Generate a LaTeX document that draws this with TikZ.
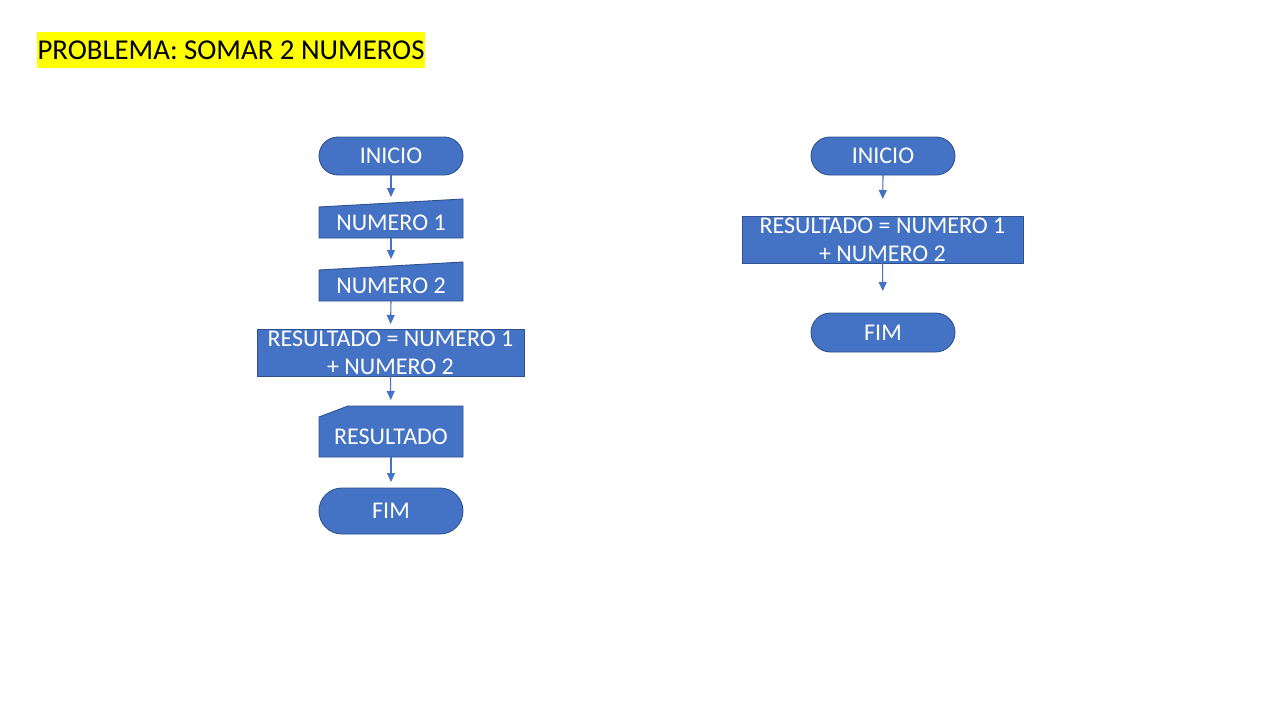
\documentclass[tikz,border=0pt]{standalone}
\usepackage{fontspec}
\setmainfont{Carlito}
\usetikzlibrary{arrows.meta,backgrounds}
\definecolor{boxfill}{HTML}{4472C4}
\definecolor{boxline}{HTML}{2F528F}
\definecolor{hl}{HTML}{FFFF00}
\begin{document}
\begin{tikzpicture}[x=1pt,y=-1pt,
  every node/.style={inner sep=0pt, outer sep=0pt},
  lbl/.style={font=\fontsize{24}{28}\selectfont, text=white, align=center},
  term/.style={lbl, draw=boxline, fill=boxfill, line width=0.9pt, minimum width=144pt},
  proc/.style={lbl, draw=boxline, fill=boxfill, line width=0.9pt},
  shp/.style={draw=boxline, fill=boxfill, line width=0.9pt, line join=miter},
  flow/.style={draw=boxfill, line width=1.1pt, -{Triangle[width=8pt,length=9pt]}}
]
\useasboundingbox (0,0) rectangle (1280,720);

% title
\node[fill=hl, minimum width=388pt, minimum height=36pt, font=\fontsize{28.8}{32}\selectfont] (title) at (231,50) {PROBLEMA: SOMAR 2 NUMEROS};

% left flowchart
\node[term, minimum height=38pt, rounded corners=19pt] (l1) at (391,156) {INICIO};
\node[lbl, minimum width=144pt, minimum height=31pt] (l2) at (391,222.5) {NUMERO 1};
\node[lbl, minimum width=144pt, minimum height=31pt] (l3) at (391,285.5) {NUMERO 2};
\node[proc, minimum width=267pt, minimum height=47pt] (l4) at (390.5,352.5) {RESULTADO = NUMERO 1\\+ NUMERO 2};
\node[lbl, minimum width=144pt, minimum height=40pt] (l5) at (391,437) {RESULTADO};
\node[term, minimum height=46pt, rounded corners=23pt] (l6) at (391,511) {FIM};

% right flowchart
\node[term, minimum height=38pt, rounded corners=19pt] (r1) at (883,156) {INICIO};
\node[proc, minimum width=281pt, minimum height=47pt] (r2) at (882.5,239.5) {RESULTADO = NUMERO 1\\+ NUMERO 2};
\node[term, minimum height=39pt, rounded corners=19.5pt] (r3) at (883,332.5) {FIM};

\begin{scope}[on background layer]
  \fill[white] (0,0) rectangle (1280,720);
  \path[shp] (l2.south west) -- (l2.north west) -- ([yshift=8pt]l2.north east) -- (l2.south east) -- cycle;
  \path[shp] (l3.south west) -- (l3.north west) -- ([yshift=8pt]l3.north east) -- (l3.south east) -- cycle;
  \path[shp] (l5.south west) -- (l5.north west) -- ([xshift=29pt,yshift=11pt]l5.north west) -- ([yshift=11pt]l5.north east) -- (l5.south east) -- cycle;
\end{scope}

% connectors
\draw[flow, shorten >=10pt] (l1.south) -- (l2.north);
\draw[flow, shorten >=11pt] (l2.south) -- (l3.north);
\draw[flow, shorten >=5pt] (l3.south) -- (l4.north);
\draw[flow, shorten >=17pt] (l4.south) -- (l5.north);
\draw[flow, shorten >=6pt] (l5.south) -- (l6.north);
\draw[flow, shorten >=17pt] (r1.south) -- (r2.north);
\draw[flow, shorten >=22pt] (r2.south) -- (r3.north);
\end{tikzpicture}
\end{document}
